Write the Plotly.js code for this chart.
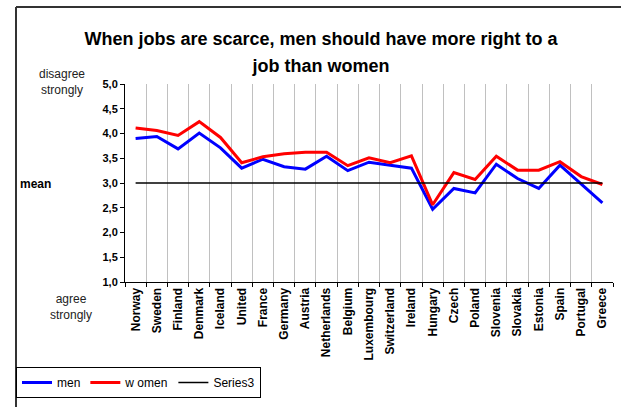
<!DOCTYPE html>
<html>
<head>
<meta charset="utf-8">
<script src="https://cdn.plot.ly/plotly-3.0.1.min.js"></script>
<style>
  html, body { margin: 0; padding: 0; background: #fff; }
  #chart { width: 621px; height: 407px; }
</style>
</head>
<body>
<div id="chart"></div>
<script>
const countries = ["Norway","Sweden","Finland","Denmark","Iceland","United","France","Germany","Austria","Netherlands","Belgium","Luxembourg","Switzerland","Ireland","Hungary","Czech","Poland","Slovenia","Slovakia","Estonia","Spain","Portugal","Greece"];
const men   = [3.90,3.94,3.69,4.01,3.71,3.30,3.48,3.33,3.28,3.54,3.25,3.42,3.36,3.30,2.47,2.89,2.80,3.38,3.09,2.89,3.36,2.98,2.60];
const women = [4.11,4.06,3.96,4.24,3.92,3.41,3.53,3.59,3.62,3.62,3.35,3.51,3.41,3.55,2.56,3.21,3.07,3.54,3.26,3.26,3.43,3.13,2.97];
const meanLevel = 3.0;
const series3 = countries.map(() => meanLevel);
const yTicks = [1.0,1.5,2.0,2.5,3.0,3.5,4.0,4.5,5.0];

const traces = [
  {x: countries, y: men, name: "men", type: "scatter", mode: "lines",
   line: {color: "#0000ff", width: 3}},
  {x: countries, y: women, name: "w omen", type: "scatter", mode: "lines",
   line: {color: "#ff0000", width: 3}},
  {x: countries, y: series3, name: "Series3", type: "scatter", mode: "lines",
   line: {color: "#000000", width: 1.5}}
];

const layout = {
  width: 621, height: 407,
  margin: {l: 125, r: 8, t: 84, b: 125},
  paper_bgcolor: "#ffffff", plot_bgcolor: "#ffffff",
  separators: ",.",
  font: {family: "Arial, 'Liberation Sans', sans-serif", color: "#000"},
  title: {
    text: "When jobs are scarce, men should have more right to a<br>job than women",
    font: {size: 18, weight: "bold", color: "#000"},
    x: 0.517, xanchor: "center", xref: "container",
    y: 1 - 44.7/407, yanchor: "middle", yref: "container"
  },
  xaxis: {
    type: "category",
    tickson: "boundaries",
    showgrid: true, gridcolor: "#c0c0c0", gridwidth: 1,
    showline: true, linecolor: "#000", linewidth: 1,
    ticks: "outside", ticklen: 4, tickcolor: "#000",
    tickangle: -90,
    tickfont: {size: 12, weight: "bold", color: "#000"},
    range: [-0.5, countries.length - 0.5],
    fixedrange: true
  },
  yaxis: {
    range: [1, 5],
    tickvals: yTicks,
    tickformat: ".1f",
    showgrid: false, zeroline: false,
    showline: true, linecolor: "#000", linewidth: 1,
    ticks: "outside", ticklen: 4, tickcolor: "#000",
    tickfont: {size: 11, weight: "bold", color: "#000"},
    fixedrange: true
  },
  showlegend: true,
  legend: {
    orientation: "h",
    x: (16-125)/488, xanchor: "left",
    y: (282-398)/198, yanchor: "bottom",
    bordercolor: "#000", borderwidth: 1,
    bgcolor: "#fff",
    font: {size: 12, color: "#000"},
    itemwidth: 30
  },
  annotations: [
    {text: "disagree<br>strongly", xref: "paper", yref: "paper",
     x: (62-125)/488, y: 1 + (84-82)/198, xanchor: "center", yanchor: "middle",
     showarrow: false, font: {size: 12, color: "#222"}},
    {text: "mean", xref: "paper", yref: "paper",
     x: (18-125)/488, y: (282-184)/198, xanchor: "left", yanchor: "middle",
     showarrow: false, font: {size: 12, weight: "bold", color: "#000"}},
    {text: "agree<br>strongly", xref: "paper", yref: "paper",
     x: (71-125)/488, y: (282-307)/198, xanchor: "center", yanchor: "middle",
     showarrow: false, font: {size: 12, color: "#222"}}
  ],
  shapes: [
    {type: "line", xref: "paper", yref: "paper",
     x0: (16-125)/488, x1: (16-125)/488, y0: 1 + (84-7)/198, y1: (282-410)/198,
     line: {color: "#333", width: 2}},
    {type: "line", xref: "paper", yref: "paper",
     x0: (16-125)/488, x1: (625-125)/488, y0: 1 + (84-7)/198, y1: 1 + (84-7)/198,
     line: {color: "#333", width: 2}}
  ]
};

Plotly.newPlot("chart", traces, layout, {staticPlot: true, displayModeBar: false}).then(function (gd) {
  // widen the gap between the two title lines to match the reference
  const lines = gd.querySelectorAll(".gtitle tspan.line");
  if (lines.length > 1) lines[1].setAttribute("dy", "1.5em");
});
</script>
</body>
</html>
